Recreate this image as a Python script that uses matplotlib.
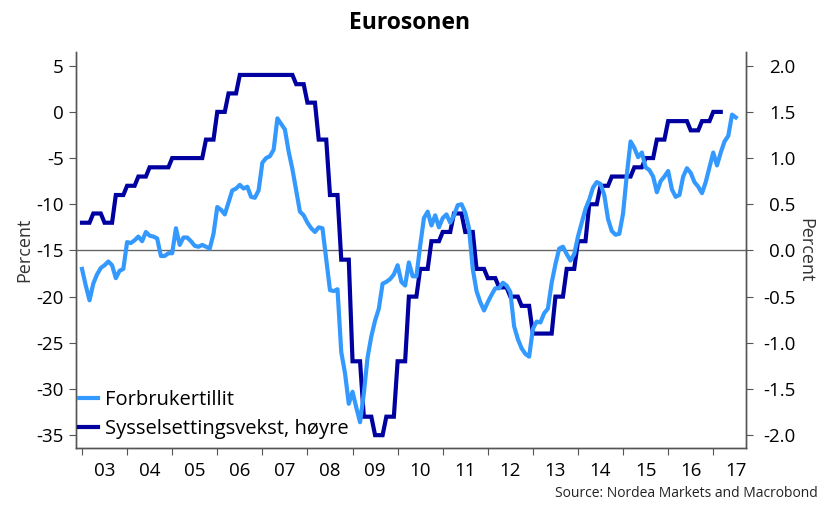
import numpy as np
import matplotlib
matplotlib.use("Agg")
import matplotlib.pyplot as plt

plt.rcParams['font.family'] = ['Open Sans', 'DejaVu Sans']
plt.rcParams['axes.unicode_minus'] = False

# Forbrukertillit, monthly from Jan 2003 (left axis)
confidence = [
    -17.0, -18.8, -20.4, -18.6, -17.6, -16.9, -16.6, -16.2, -16.6, -18.0, -17.2, -17.0,  # 2003
    -14.1, -14.2, -13.9, -13.5, -14.0, -13.0, -13.4, -13.5, -13.7, -15.6, -15.6, -15.3,  # 2004
    -15.3, -12.6, -14.4, -13.6, -13.6, -14.0, -14.5, -14.6, -14.4, -14.6, -14.8, -13.2,  # 2005
    -10.3, -10.6, -11.1, -9.8, -8.5, -8.3, -7.9, -8.3, -8.1, -9.2, -9.3, -8.5,          # 2006
    -5.5, -5.0, -4.8, -4.1, -0.7, -1.3, -1.9, -4.3, -6.2, -8.5, -10.8, -11.2,            # 2007
    -12.0, -12.6, -13.0, -12.5, -12.6, -16.0, -19.3, -19.4, -19.2, -26.0, -28.3, -31.6,  # 2008
    -30.3, -32.0, -33.6, -30.5, -26.6, -24.3, -22.6, -21.3, -18.6, -18.4, -18.1, -17.6,  # 2009
    -16.6, -18.4, -18.8, -16.3, -17.8, -17.8, -14.5, -11.5, -10.8, -12.3, -11.2, -12.5,  # 2010
    -11.5, -11.1, -12.0, -11.2, -10.1, -10.0, -10.9, -12.6, -17.0, -19.4, -20.6, -21.5,  # 2011
    -20.6, -19.8, -19.1, -19.1, -18.5, -18.8, -19.5, -23.2, -24.6, -25.6, -26.2, -26.5,  # 2012
    -23.5, -22.7, -22.8, -21.8, -21.3, -18.5, -16.5, -14.8, -14.6, -15.4, -16.1, -15.4,  # 2013
    -13.5, -12.0, -10.5, -9.5, -8.2, -7.6, -7.8, -9.0, -11.6, -12.9, -13.3, -13.2,       # 2014
    -11.0, -6.8, -3.2, -3.9, -4.9, -4.4, -6.0, -6.3, -7.0, -8.7, -7.5, -7.0,             # 2015
    -6.4, -8.4, -9.2, -9.0, -7.0, -6.1, -6.6, -7.6, -8.1, -8.8, -7.6, -6.0,              # 2016
    -4.4, -5.8, -4.4, -3.2, -2.6, -0.3, -0.6,                                            # 2017
]

# Sysselsettingsvekst y/y, quarterly from 2003Q1 (right axis)
employment_q = [
    0.3, 0.4, 0.3, 0.6,
    0.7, 0.8, 0.9, 0.9,
    1.0, 1.0, 1.0, 1.2,
    1.5, 1.7, 1.9, 1.9,
    1.9, 1.9, 1.9, 1.8,
    1.6, 1.2, 0.6, -0.1,
    -1.2, -1.8, -2.0, -1.8,
    -1.2, -0.5, -0.2, 0.1,
    0.2, 0.4, 0.2, -0.2,
    -0.3, -0.4, -0.5, -0.6,
    -0.9, -0.9, -0.5, -0.2,
    0.1, 0.5, 0.7, 0.8,
    0.8, 0.9, 1.0, 1.2,
    1.4, 1.4, 1.3, 1.4,
    1.5,
]

years = list(range(2003, 2018))
year_labels = ['%02d' % (y % 100) for y in years]

light_blue = '#3399FF'
dark_blue = '#0000A0'
spine_col = '#555555'

t_conf = 2003 + np.arange(len(confidence)) / 12.0
employment = np.repeat(employment_q, 3)
t_emp = 2003 + np.arange(len(employment)) / 12.0

fig = plt.figure(figsize=(8.19, 5.07), dpi=100)
ax = fig.add_axes([0.0928, 0.1160, 0.8177, 0.7820])
ax2 = ax.twinx()
ax.set_zorder(ax2.get_zorder() + 1)
ax.patch.set_visible(False)

ax2.axhline(0, color='#666666', lw=1.0, zorder=1)
l2, = ax2.plot(t_emp, employment, color=dark_blue, lw=3.0,
               label='Sysselsettingsvekst, høyre', solid_joinstyle='miter')
l1, = ax.plot(t_conf, confidence, color=light_blue, lw=3.0, label='Forbrukertillit')

ax.set_xlim(2002.867, 2017.72)
ax.set_ylim(-36.41, 6.515)
ax2.set_ylim(-2.141, 2.1515)

ax.set_yticks(range(-35, 6, 5))
ax2.set_yticks(np.arange(-2.0, 2.01, 0.5))
ax2.set_yticklabels(['%.1f' % v for v in np.arange(-2.0, 2.01, 0.5)])

ax.set_xticks(years)
ax.set_xticklabels([])
ax.set_xticks([y + 0.5 for y in years], minor=True)
ax.set_xticklabels(year_labels, minor=True)

for a in (ax, ax2):
    a.spines['top'].set_visible(False)
    for s in ('left', 'right', 'bottom'):
        a.spines[s].set_color(spine_col)
        a.spines[s].set_linewidth(1.0)

ax.tick_params(axis='x', which='major', direction='out', length=5, color=spine_col)
ax.tick_params(axis='x', which='minor', length=0, pad=10, labelsize=13.5)
ax.tick_params(axis='y', direction='out', length=5, color=spine_col, pad=4, labelsize=13.5)
ax2.tick_params(axis='y', direction='out', length=5, color=spine_col, pad=31, labelsize=13.5)
for lab in ax2.get_yticklabels():
    lab.set_horizontalalignment('right')

ax.set_ylabel('Percent', fontsize=13, color='#333333', labelpad=2)
ax2.set_ylabel('Percent', fontsize=13, color='#333333', rotation=270, labelpad=13)

ax.legend(handles=[l1, l2], loc='lower left', bbox_to_anchor=(0.005, 0.022),
          frameon=False, fontsize=14.5, handlelength=0.95, handletextpad=0.3,
          labelspacing=0.45, borderpad=0, borderaxespad=0)

fig.text(0.5, 0.955, 'Eurosonen', ha='center', va='center', fontsize=16.5, fontweight='bold')
fig.text(0.998, 0.012, 'Source: Nordea Markets and Macrobond', ha='right', va='bottom',
         fontsize=10, color='#222222')

fig.savefig('out.png', dpi=100)
